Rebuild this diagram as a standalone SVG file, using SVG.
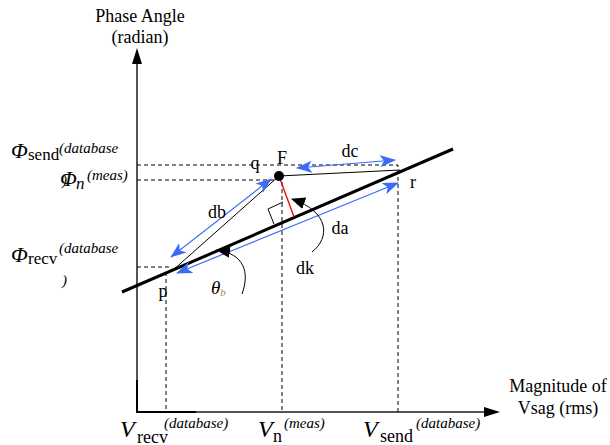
<svg xmlns="http://www.w3.org/2000/svg" width="610" height="445" viewBox="0 0 610 445" font-family="'Liberation Serif','Times New Roman',serif">
<defs>
<style>
text{font-family:"Liberation Serif","Times New Roman",serif;fill:#000}
.lbl{font-size:18px}
.ax{font-size:18px}
.it{font-style:italic}
.dash{stroke:#000;stroke-width:1;stroke-dasharray:4 3;fill:none}
.blue{stroke:#3b6cf5;stroke-width:1.2;fill:none;marker-start:url(#bs);marker-end:url(#be)}
.thin{stroke:#000;stroke-width:1;fill:none}
</style>
<marker id="be" markerWidth="16" markerHeight="12" refX="15" refY="6" orient="auto" markerUnits="userSpaceOnUse"><path d="M0,0 L16,6 L0,12 L4,6 Z" fill="#3b6cf5"/></marker>
<marker id="bs" markerWidth="16" markerHeight="12" refX="1" refY="6" orient="auto" markerUnits="userSpaceOnUse"><path d="M16,0 L0,6 L16,12 L12,6 Z" fill="#3b6cf5"/></marker>
<marker id="ke" markerWidth="14" markerHeight="12" refX="13" refY="6" orient="auto" markerUnits="userSpaceOnUse"><path d="M0,0 L14,6 L0,12 Z" fill="#000"/></marker>
</defs>
<rect width="610" height="445" fill="#fff"/>
<g id="axes">
<line x1="137" y1="412" x2="137" y2="62" stroke="#555" stroke-width="2"/>
<line x1="137" y1="412" x2="486" y2="412" stroke="#555" stroke-width="2"/>
<line x1="137" y1="380" x2="137" y2="413" stroke="#000" stroke-width="2"/>
<line x1="136" y1="412" x2="196" y2="412" stroke="#000" stroke-width="2"/>
<path d="M137,48 L142,64 L132,64 Z" fill="#000"/>
<path d="M500,412 L484,407 L484,417 Z" fill="#000"/>
</g>
<g id="guides">
<path class="dash" d="M137 165 H398 V412"/>
<path class="dash" d="M137 180 H279"/>
<path class="dash" d="M282 182 V412"/>
<path class="dash" d="M137 267 H172"/>
<path class="dash" d="M166 272 V412"/>
</g>
<g id="connectors">
<line x1="122" y1="292" x2="453" y2="149" stroke="#000" stroke-width="3"/>
<line class="thin" x1="279" y1="176" x2="400" y2="170"/>
<line class="thin" x1="279" y1="176" x2="172" y2="271"/>
<line x1="279" y1="176" x2="294" y2="217" stroke="#e00" stroke-width="1.3"/>
<path class="thin" d="M274 224 L268 209 L283 202"/>
<line class="blue" x1="271" y1="179" x2="171" y2="257"/>
<line class="blue" x1="297" y1="168" x2="395" y2="160"/>
<line class="blue" x1="177" y1="273" x2="398" y2="183"/>
<path class="thin" d="M312 252 C330 238 330 212 292 199" marker-end="url(#ke)"/>
<path class="thin" d="M242 294 C250 272 244 254 217 250" marker-end="url(#ke)"/>
</g>
<g id="F"><circle cx="279" cy="176" r="5" fill="#000"/><text class="lbl" x="282" y="164" text-anchor="middle">F</text></g>
<g id="labels">
<text class="lbl" x="255" y="169" text-anchor="middle">q</text>
<text class="lbl" x="413" y="188" text-anchor="middle">r</text>
<text class="lbl" x="163" y="297" text-anchor="middle">p</text>
<text class="lbl" x="350" y="157" text-anchor="middle">dc</text>
<text class="lbl" x="217" y="218" text-anchor="middle">db</text>
<text class="lbl" x="340" y="234" text-anchor="middle">da</text>
<text class="lbl" x="305" y="274" text-anchor="middle">dk</text>
<text x="211" y="294" font-size="19" font-style="italic" fill="#3a55a8">θ<tspan font-size="11" dy="2" fill="#c08040">b</tspan></text>
</g>
<g id="yaxis-labels">
<text class="ax" x="140" y="22" text-anchor="middle">Phase Angle</text>
<text class="ax" x="140" y="43" text-anchor="middle">(radian)</text>
<text x="11" y="158" font-size="22" class="it">Φ</text><text x="28" y="160" font-size="17">send</text><text x="59" y="153" font-size="15" class="it">(database</text>
<text x="62" y="185" font-size="15" class="it">)</text>
<text x="60" y="186" font-size="22" class="it">Φ</text><text x="76" y="189" font-size="17" class="it">n</text><text x="87" y="180" font-size="15" class="it">(meas)</text>
<text x="11" y="262" font-size="22" class="it">Φ</text><text x="28" y="264" font-size="17">recv</text><text x="59" y="253" font-size="15" class="it">(database</text>
<text x="62" y="285" font-size="15" class="it">)</text>
</g>
<g id="xaxis-labels">
<text class="ax" x="558" y="392" text-anchor="middle">Magnitude of</text>
<text class="ax" x="558" y="414" text-anchor="middle">Vsag (rms)</text>
<text x="120" y="437" font-size="24" class="it">V</text><text x="137" y="443" font-size="18">recv</text><text x="164" y="428" font-size="15" class="it">(database)</text>
<text x="258" y="437" font-size="24" class="it">V</text><text x="273" y="442" font-size="18">n</text><text x="284" y="428" font-size="15" class="it">(meas)</text>
<text x="363" y="437" font-size="24" class="it">V</text><text x="380" y="442" font-size="18">send</text><text x="416" y="428" font-size="15" class="it">(database)</text>
</g>
</svg>
